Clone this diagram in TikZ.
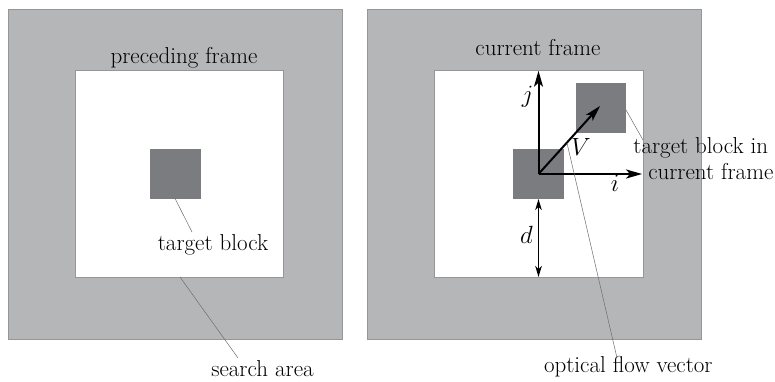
\documentclass[tikz,border=0pt]{standalone}
\usetikzlibrary{arrows.meta}
\definecolor{areagray}{RGB}{181,182,184}
\definecolor{blockgray}{RGB}{123,124,128}
\definecolor{edgegray}{RGB}{150,150,152}
\definecolor{leadgray}{RGB}{110,110,110}
\begin{document}
\begin{tikzpicture}[x=1pt,y=-1pt,
  area/.style={fill=areagray, draw=edgegray, line width=0.7pt, inner sep=0pt, outer sep=0pt},
  framebox/.style={fill=white, draw=edgegray, line width=0.7pt, inner sep=0pt, outer sep=0pt},
  block/.style={fill=blockgray, draw=none, inner sep=0pt, outer sep=0pt},
  leader/.style={draw=leadgray, line width=0.5pt},
  axis/.style={line width=2pt, -{Stealth[length=16pt,width=9pt,inset=4pt]}},
  span/.style={line width=1.4pt, {Stealth[length=11pt,width=6.5pt,inset=3pt]}-{Stealth[length=11pt,width=6.5pt,inset=3pt]}},
  lbl/.style={font=\fontsize{23}{27}\selectfont, inner sep=0pt, anchor=base}]
\useasboundingbox (0,0) rectangle (775,382);

% preceding frame
\node[area, minimum width=334.7pt, minimum height=330pt] (areaL) at (175.3,174) {};
\node[framebox, minimum width=208.4pt, minimum height=206.3pt] (frameL) at (179.5,173.9) {};
\node[block, minimum width=50.7pt, minimum height=50pt] (blockL) at (175.3,174) {};
\node[lbl] (titleL) at (184,63.3) {preceding frame};
\node[lbl] (targetL) at (213,250) {target block};
\node[lbl] (search) at (262.5,376.5) {search area};
\coordinate (targetLend) at (192,232);
\coordinate (searchend) at (238,358);
\draw[leader] (blockL.south) -- (targetLend);
\draw[leader] (frameL.south) ++(0.5,0) -- (searchend);

% current frame
\node[area, minimum width=333.7pt, minimum height=330pt] (areaR) at (534.2,174) {};
\node[framebox, minimum width=208.7pt, minimum height=206.3pt] (frameR) at (538.7,173.9) {};
\node[block, minimum width=51pt, minimum height=50pt] (blockR) at (538.5,174) {};
\node[block, minimum width=50pt, minimum height=50pt] (blockU) at (601,108) {};
\node[lbl] (titleR) at (538,55.5) {current frame};
\coordinate (O) at (538.5,174);
\coordinate (Vtip) at (600,106);

\draw[axis] (O) -- (O |- frameR.north);
\draw[axis] (O) -- ([xshift=-1pt]O -| frameR.east);
\draw[axis] (O) -- (Vtip);
\draw[span] (O |- blockR.south) -- (O |- frameR.south);

\node[lbl] (jlab) at (527.5,102.5) {$j$};
\node[lbl] (ilab) at (615,191.5) {$i$};
\node[lbl] (Vlab) at (581,156) {$V$};
\node[lbl] (dlab) at (526.5,243) {$d$};

\node[lbl] (targetR1) at (700.8,153.3) {target block in};
\node[lbl] (targetR2) at (710.8,179) {current frame};
\node[lbl] (flow) at (628.3,372.5) {optical flow vector};

\coordinate (blockUpin) at (626,110);
\coordinate (targetRend) at (643,140);
\coordinate (flowpin) at (567,143);
\coordinate (flowend) at (617,358);
\draw[leader] (blockUpin) -- (targetRend);
\draw[leader] (flowpin) -- (flowend);
\end{tikzpicture}
\end{document}
